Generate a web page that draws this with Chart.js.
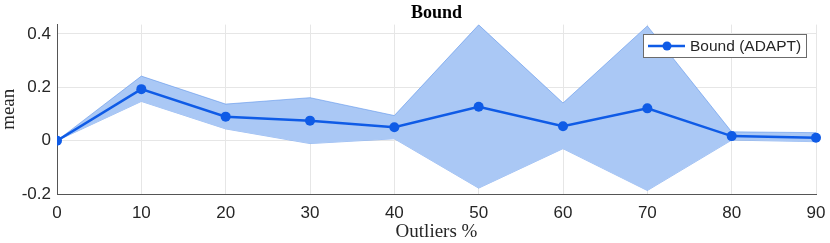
<!DOCTYPE html>
<html>
<head>
<meta charset="utf-8">
<script src="https://cdn.jsdelivr.net/npm/chart.js@4.4.1/dist/chart.umd.min.js"></script>
<style>
  html, body { margin: 0; padding: 0; background: #fff; }
  #wrap { width: 830px; height: 243px; }
</style>
</head>
<body>
<div id="wrap"><canvas id="boundChart"></canvas></div>
<script>
// Data
const outliers = [0, 10, 20, 30, 40, 50, 60, 70, 80, 90];
const meanValues = [0, 0.193, 0.090, 0.075, 0.050, 0.127, 0.054, 0.121, 0.017, 0.011];
const upperValues = [0, 0.242, 0.137, 0.161, 0.094, 0.434, 0.141, 0.430, 0.033, 0.030];
const lowerValues = [0, 0.147, 0.044, -0.011, 0.007, -0.178, -0.030, -0.187, 0.002, -0.004];
const yTicks = [-0.2, 0, 0.2, 0.4];
const seriesLabel = 'Bound (ADAPT)';

const lineColor = '#0f5be6';
const bandColor = 'rgba(170, 200, 245, 1)';
const bandEdge = 'rgba(95, 150, 235, 0.75)';
const axisColor = '#555555';
const gridColor = '#e6e6e6';
const textColor = '#262626';

const toPoints = vals => vals.map((v, i) => ({ x: outliers[i], y: v }));

// Legend box drawn inside the plot area (MATLAB style, top right)
const insideLegend = {
    id: 'insideLegend',
    afterDraw(chart) {
        const ctx = chart.ctx;
        const x = 643.5, y = 34.5, w = 163, h = 23;
        ctx.save();
        ctx.fillStyle = '#ffffff';
        ctx.fillRect(x, y, w, h);
        ctx.strokeStyle = '#6b6b6b';
        ctx.lineWidth = 1;
        ctx.strokeRect(x, y, w, h);
        const cy = y + h / 2;
        ctx.strokeStyle = lineColor;
        ctx.lineWidth = 2.5;
        ctx.beginPath();
        ctx.moveTo(648, cy);
        ctx.lineTo(685, cy);
        ctx.stroke();
        ctx.fillStyle = lineColor;
        ctx.beginPath();
        ctx.arc(667, cy, 4.5, 0, Math.PI * 2);
        ctx.fill();
        ctx.fillStyle = textColor;
        ctx.font = '15.5px "Liberation Sans", Arial, sans-serif';
        ctx.textBaseline = 'middle';
        ctx.textAlign = 'left';
        ctx.fillText(seriesLabel, 690, cy + 0.5);
        ctx.restore();
    }
};

new Chart(document.getElementById('boundChart'), {
    type: 'line',
    data: {
        datasets: [
            {
                label: seriesLabel,
                data: toPoints(meanValues),
                borderColor: lineColor,
                backgroundColor: lineColor,
                borderWidth: 2.5,
                pointRadius: 5,
                pointBorderWidth: 0,
                pointBackgroundColor: lineColor,
                fill: false,
                order: 0,
                clip: { left: 0, top: false, right: false, bottom: false }
            },
            {
                label: 'upper',
                data: toPoints(upperValues),
                borderColor: bandEdge,
                borderWidth: 0.8,
                backgroundColor: bandColor,
                pointRadius: 0,
                fill: '+1',
                order: 1
            },
            {
                label: 'lower',
                data: toPoints(lowerValues),
                borderColor: bandEdge,
                borderWidth: 0.8,
                backgroundColor: bandColor,
                pointRadius: 0,
                fill: false,
                order: 1
            }
        ]
    },
    options: {
        responsive: true,
        maintainAspectRatio: false,
        animation: false,
        layout: { padding: { left: 0, right: 14, top: 0, bottom: 0 } },
        plugins: {
            legend: { display: false },
            tooltip: { enabled: false },
            title: {
                display: true,
                text: 'Bound',
                fullSize: false,
                color: '#000',
                font: { family: '"Liberation Serif", "Times New Roman", serif', size: 18, weight: 'bold', lineHeight: 1.2 },
                padding: { top: 3, bottom: 0 }
            }
        },
        scales: {
            x: {
                type: 'linear',
                min: 0,
                max: 90,
                afterFit: scale => {
                    scale.height = 49;
                    scale.paddingLeft = 0;
                    scale.paddingRight = 0;
                },
                ticks: {
                    stepSize: 10,
                    color: textColor,
                    padding: 9,
                    maxRotation: 0,
                    font: { family: '"Liberation Sans", Arial, sans-serif', size: 17 }
                },
                grid: { color: gridColor, drawTicks: false },
                border: { display: true, color: axisColor, width: 1 },
                title: {
                    display: true,
                    text: 'Outliers %',
                    color: textColor,
                    padding: { top: 0, bottom: 0 },
                    font: { family: '"Liberation Serif", "Times New Roman", serif', size: 19, lineHeight: 1.2 }
                }
            },
            y: {
                min: -0.2,
                max: 0.435,
                afterFit: scale => { scale.width = 57; },
                afterBuildTicks: scale => { scale.ticks = yTicks.map(v => ({ value: v })); },
                ticks: {
                    color: textColor,
                    padding: 6,
                    font: { family: '"Liberation Sans", Arial, sans-serif', size: 17 },
                    callback: v => String(Math.round(v * 10) / 10)
                },
                grid: { color: gridColor, drawTicks: false },
                border: { display: true, color: axisColor, width: 1 },
                title: {
                    display: true,
                    text: 'mean',
                    color: textColor,
                    padding: { top: 0, bottom: 0 },
                    font: { family: '"Liberation Serif", "Times New Roman", serif', size: 19, lineHeight: 1 }
                }
            }
        }
    },
    plugins: [insideLegend]
});
</script>
</body>
</html>
